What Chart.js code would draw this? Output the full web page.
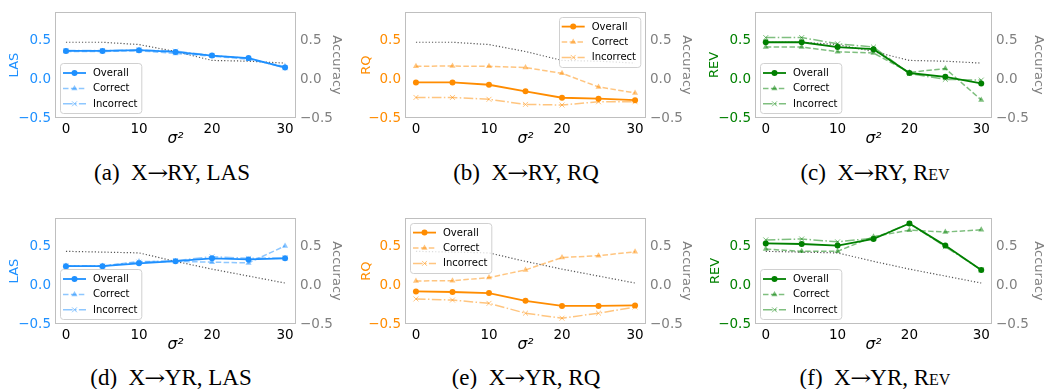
<!DOCTYPE html>
<html>
<head>
<meta charset="utf-8">
<script src="https://cdn.jsdelivr.net/npm/chart.js@4.4.1/dist/chart.umd.min.js"></script>
<style>
  body { margin: 0; background: #fff; width: 1045px; height: 389px; position: relative; overflow: hidden; }
  canvas { position: absolute; }
  .cap { position: absolute; width: 320px; text-align: center; font-family: 'Liberation Serif', 'Times New Roman', serif;
         font-size: 23px; line-height: 23px; color: #000; white-space: nowrap; }
  .sc { font-variant: small-caps; }
  .ar { display: inline-block; font-family: 'DejaVu Serif', serif; font-size: 21px; transform: scaleX(1.2); margin: 0 1px; }
</style>
</head>
<body>
<canvas id="ca" width="345" height="150" style="left:0px;top:0px"></canvas>
<canvas id="cb" width="345" height="150" style="left:350px;top:0px"></canvas>
<canvas id="cc" width="352" height="150" style="left:695px;top:0px"></canvas>
<canvas id="cd" width="345" height="150" style="left:0px;top:206px"></canvas>
<canvas id="ce" width="345" height="150" style="left:350px;top:206px"></canvas>
<canvas id="cf" width="352" height="150" style="left:695px;top:206px"></canvas>

<div class="cap" style="left:12px;top:161px">(a)&ensp;X<span class="ar">→</span>RY, LAS</div>
<div class="cap" style="left:366px;top:161px">(b)&ensp;X<span class="ar">→</span>RY, RQ</div>
<div class="cap" style="left:715px;top:161px">(c)&ensp;X<span class="ar">→</span>RY, R<span class="sc">ev</span></div>
<div class="cap" style="left:11px;top:366px">(d)&ensp;X<span class="ar">→</span>YR, LAS</div>
<div class="cap" style="left:366px;top:366px">(e)&ensp;X<span class="ar">→</span>YR, RQ</div>
<div class="cap" style="left:715px;top:366px">(f)&ensp;X<span class="ar">→</span>YR, R<span class="sc">ev</span></div>

<script>
// sigma^2 values on the x axis
const sigma2 = [0, 5, 10, 15, 20, 25, 30];
const xTicks = [0, 10, 20, 30];
const yTicks = [-0.5, 0, 0.5];

// accuracy (right axis, dotted)
const accRY = [0.48, 0.48, 0.45, 0.36, 0.245, 0.235, 0.21];
const accYR = [0.44, 0.43, 0.42, 0.31, 0.21, 0.12, 0.03];

// X -> RY
const lasRYOverall   = [0.368, 0.368, 0.377, 0.355, 0.307, 0.275, 0.152];
const lasRYCorrect   = [0.36, 0.36, 0.37, 0.335, 0.30, 0.26, 0.165];
const lasRYIncorrect = [0.372, 0.372, 0.38, 0.365, 0.31, 0.27, 0.15];

const rqRYOverall   = [-0.04, -0.04, -0.07, -0.155, -0.238, -0.25, -0.27];
const rqRYCorrect   = [0.17, 0.172, 0.168, 0.152, 0.078, -0.098, -0.176];
const rqRYIncorrect = [-0.234, -0.234, -0.258, -0.324, -0.332, -0.29, -0.29];

const revRYOverall   = [0.48, 0.48, 0.418, 0.39, 0.082, 0.033, -0.053];
const revRYCorrect   = [0.418, 0.418, 0.357, 0.34, 0.09, 0.14, -0.266];
const revRYIncorrect = [0.54, 0.54, 0.46, 0.418, 0.074, 0.0, -0.01];

// X -> YR
const lasYROverall   = [0.248, 0.248, 0.285, 0.313, 0.35, 0.335, 0.35];
const lasYRCorrect   = [0.25, 0.25, 0.31, 0.31, 0.30, 0.29, 0.51];
const lasYRIncorrect = [0.25, 0.25, 0.30, 0.32, 0.37, 0.35, 0.355];

const rqYROverall   = [-0.078, -0.086, -0.10, -0.20, -0.266, -0.266, -0.26];
const rqYRCorrect   = [0.057, 0.06, 0.1, 0.2, 0.36, 0.384, 0.434];
const rqYRIncorrect = [-0.176, -0.19, -0.233, -0.36, -0.425, -0.36, -0.28];

const revYROverall   = [0.543, 0.535, 0.514, 0.6, 0.8, 0.514, 0.2];
const revYRCorrect   = [0.47, 0.44, 0.44, 0.63, 0.714, 0.69, 0.718];
const revYRIncorrect = [0.588, 0.6, 0.563, 0.61, 0.8, 0.50, 0.2];

const FONT = "'DejaVu Sans', sans-serif";
const GRAY = '#808080';

function rgba(hex, a) {
  const n = parseInt(hex.slice(1), 16);
  return 'rgba(' + (n >> 16) + ',' + ((n >> 8) & 255) + ',' + (n & 255) + ',' + a + ')';
}
function fmt(v) {
  return (v < 0 ? '\u2212' : '') + Math.abs(v).toFixed(1);
}
function xy(vals) {
  return sigma2.map((x, i) => ({ x: x, y: vals[i] }));
}

// axes frame on all four sides
const frame = {
  id: 'frame',
  afterDatasetsDraw(chart) {
    const a = chart.chartArea, ctx = chart.ctx;
    ctx.save();
    ctx.strokeStyle = '#bfbfbf';
    ctx.lineWidth = 1;
    ctx.strokeRect(Math.round(a.left) + 0.5, Math.round(a.top) + 0.5,
                   Math.round(a.right - a.left) - 1, Math.round(a.bottom - a.top) - 1);
    ctx.restore();
  }
};

function marker(ctx, d, x, y) {
  const r = d.pointRadius;
  ctx.fillStyle = d.pointBackgroundColor || d.borderColor;
  ctx.strokeStyle = d.borderColor;
  ctx.lineWidth = 1;
  ctx.beginPath();
  if (d.pointStyle === 'circle') {
    ctx.arc(x, y, r, 0, Math.PI * 2);
    ctx.fill();
  } else if (d.pointStyle === 'triangle') {
    ctx.moveTo(x, y - r);
    ctx.lineTo(x + r * 0.87, y + r * 0.5);
    ctx.lineTo(x - r * 0.87, y + r * 0.5);
    ctx.closePath();
    ctx.fill();
  } else {
    const k = r * 0.7;
    ctx.moveTo(x - k, y - k); ctx.lineTo(x + k, y + k);
    ctx.moveTo(x + k, y - k); ctx.lineTo(x - k, y + k);
    ctx.stroke();
  }
}

// matplotlib-like legend box inside the plot
const boxLegend = {
  id: 'boxLegend',
  afterDraw(chart, args, opts) {
    const ctx = chart.ctx, a = chart.chartArea;
    const items = chart.data.datasets.filter(d => d.inLegend);
    ctx.save();
    ctx.font = '10px ' + FONT;
    const tw = Math.max(...items.map(d => ctx.measureText(d.label).width));
    const w = 33 + tw + 4, h = 50;
    const x = opts.loc.indexOf('left') >= 0 ? a.left + 5 : a.right - 6 - w;
    const y = opts.loc.indexOf('upper') >= 0 ? a.top + 4.5 : a.bottom - 5 - h;
    ctx.beginPath();
    if (ctx.roundRect) ctx.roundRect(Math.round(x) + 0.5, Math.round(y) + 0.5, w, h, 3);
    else ctx.rect(Math.round(x) + 0.5, Math.round(y) + 0.5, w, h);
    ctx.fillStyle = 'rgba(255,255,255,0.8)';
    ctx.fill();
    ctx.strokeStyle = '#d0d0d0';
    ctx.lineWidth = 1;
    ctx.stroke();
    items.forEach((d, i) => {
      const cy = y + 10 + i * 15.4;
      ctx.setLineDash(d.borderDash || []);
      ctx.strokeStyle = d.borderColor;
      ctx.lineWidth = d.borderWidth;
      ctx.beginPath();
      ctx.moveTo(x + 3, cy);
      ctx.lineTo(x + 26, cy);
      ctx.stroke();
      ctx.setLineDash([]);
      marker(ctx, d, x + 14.5, cy);
      ctx.fillStyle = '#000';
      ctx.textBaseline = 'middle';
      ctx.textAlign = 'left';
      ctx.fillText(d.label, x + 33, cy + 0.5);
    });
    ctx.restore();
  }
};

function makePanel(p) {
  const c = p.color;
  const datasets = [
    { label: 'Overall', data: xy(p.overall), yAxisID: 'y', inLegend: true,
      borderColor: c, backgroundColor: c, pointBackgroundColor: c, borderWidth: 1.8,
      pointStyle: 'circle', pointRadius: 3, pointBorderWidth: 0 },
    { label: 'Correct', data: xy(p.correct), yAxisID: 'y', inLegend: true,
      borderColor: rgba(c, 0.5), backgroundColor: rgba(c, 0.5), pointBackgroundColor: rgba(c, 0.5),
      borderWidth: 1.5, borderDash: [5.5, 2.4], pointStyle: 'triangle', pointRadius: 3.5, pointBorderWidth: 0 },
    { label: 'Incorrect', data: xy(p.incorrect), yAxisID: 'y', inLegend: true,
      borderColor: rgba(c, 0.5), backgroundColor: rgba(c, 0.5),
      borderWidth: 1.5, borderDash: [9.6, 2.4, 1.5, 2.4], pointStyle: 'crossRot', pointRadius: 3.5, pointBorderWidth: 1 },
    { label: 'Accuracy', data: xy(p.acc), yAxisID: 'y1', inLegend: false,
      borderColor: '#555555', borderWidth: 1.2, borderDash: [1.2, 2], pointRadius: 0 }
  ];
  const yScale = (pos, col, title, width, tOff) => ({
    position: pos, min: -0.5, max: 0.87,
    afterBuildTicks: s => { s.ticks = yTicks.map(v => ({ value: v })); },
    afterFit: s => { s.width = width; },
    grid: { display: false, drawTicks: false },
    border: { display: false },
    ticks: { color: col, padding: 4, font: { family: FONT, size: 13.5 }, callback: v => fmt(v) },
    title: { display: true, text: title, color: col, font: { family: FONT, size: 13 },
             padding: { top: tOff - 7.8, bottom: 0 } }
  });
  new Chart(document.getElementById(p.id), {
    type: 'line',
    data: { datasets: datasets },
    options: {
      responsive: false,
      animation: false,
      devicePixelRatio: 1,
      layout: { padding: { top: 6, left: 0, right: 0, bottom: 0 } },
      elements: { line: { tension: 0, fill: false } },
      scales: {
        x: {
          type: 'linear', min: -1.5, max: 31.5,
          afterBuildTicks: s => { s.ticks = xTicks.map(v => ({ value: v })); },
          afterFit: s => { s.height = 32; },
          grid: { display: false, drawTicks: false },
          border: { display: false },
          ticks: { color: '#000', padding: 3, maxRotation: 0, autoSkip: false,
                   font: { family: FONT, size: 13.5 } },
          title: { display: true, text: 'σ²', color: '#000',
                   font: { family: FONT, size: 15.5, style: 'italic' }, padding: { top: 0, bottom: 1.5 } }
        },
        y: yScale('left', c, p.metric, p.yw, p.tOff),
        y1: yScale('right', GRAY, 'Accuracy', p.y1w, 9)
      },
      plugins: {
        legend: { display: false },
        tooltip: { enabled: false },
        boxLegend: { loc: p.loc }
      }
    },
    plugins: [frame, boxLegend]
  });
}

const panels = [
  { id: 'ca', metric: 'LAS', color: '#1e90ff', overall: lasRYOverall, correct: lasRYCorrect,
    incorrect: lasRYIncorrect, acc: accRY, loc: 'lower left', yw: 55, y1w: 49, tOff: 15 },
  { id: 'cb', metric: 'RQ', color: '#ff8c00', overall: rqRYOverall, correct: rqRYCorrect,
    incorrect: rqRYIncorrect, acc: accRY, loc: 'upper right', yw: 55, y1w: 49, tOff: 17 },
  { id: 'cc', metric: 'REV', color: '#008000', overall: revRYOverall, correct: revRYCorrect,
    incorrect: revRYIncorrect, acc: accRY, loc: 'lower left', yw: 60, y1w: 55, tOff: 20 },
  { id: 'cd', metric: 'LAS', color: '#1e90ff', overall: lasYROverall, correct: lasYRCorrect,
    incorrect: lasYRIncorrect, acc: accYR, loc: 'lower left', yw: 55, y1w: 49, tOff: 15 },
  { id: 'ce', metric: 'RQ', color: '#ff8c00', overall: rqYROverall, correct: rqYRCorrect,
    incorrect: rqYRIncorrect, acc: accYR, loc: 'upper left', yw: 55, y1w: 49, tOff: 17 },
  { id: 'cf', metric: 'REV', color: '#008000', overall: revYROverall, correct: revYRCorrect,
    incorrect: revYRIncorrect, acc: accYR, loc: 'lower left', yw: 60, y1w: 55, tOff: 21 }
];
panels.forEach(makePanel);
</script>
</body>
</html>
